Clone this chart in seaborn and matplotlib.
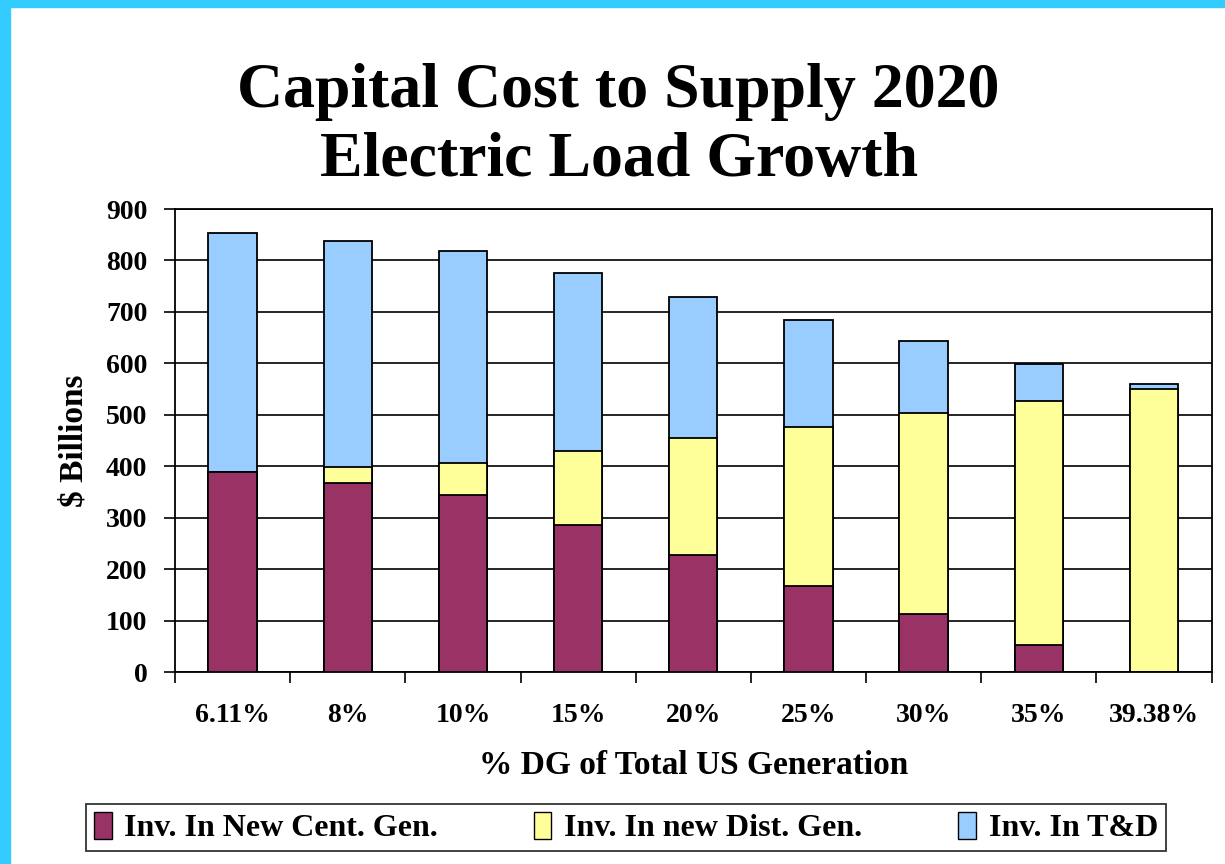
import matplotlib
matplotlib.use("Agg")
import matplotlib.pyplot as plt
import matplotlib.patches as mpatches
import pandas as pd
import seaborn as sns

# --- data ---
categories = ['6.11%', '8%', '10%', '15%', '20%', '25%', '30%', '35%', '39.38%']
cent_gen = [388, 367, 345, 285, 227, 168, 112, 52, 0]
dist_gen = [0, 31, 62, 144, 227, 308, 391, 474, 551]
t_and_d = [465, 440, 411, 346, 274, 208, 140, 72, 8]
series_names = ['Inv. In New Cent. Gen.', 'Inv. In new Dist. Gen.', 'Inv. In T&D']
colors = ['#993366', '#FFFF99', '#99CCFF']

df = pd.DataFrame({'Category': categories, 'Cent': cent_gen, 'Dist': dist_gen, 'TD': t_and_d})
df['Cent_Dist'] = df['Cent'] + df['Dist']
df['Total'] = df['Cent_Dist'] + df['TD']

sns.set_theme(style='white')
plt.rcParams['font.family'] = ['Liberation Serif', 'DejaVu Serif']
plt.rcParams['font.weight'] = 'bold'
plt.rcParams['text.color'] = 'black'
plt.rcParams['axes.labelcolor'] = 'black'
plt.rcParams['xtick.color'] = 'black'
plt.rcParams['ytick.color'] = 'black'

fig = plt.figure(figsize=(12.25, 8.64), dpi=100)
fig.patch.set_facecolor('white')
ax = fig.add_axes([0.1429, 0.2222, 0.8461, 0.5359])

# stacked look: draw cumulative totals back to front
for col, c in zip(['Total', 'Cent_Dist', 'Cent'], colors[::-1]):
    sns.barplot(data=df, x='Category', y=col, color=c, width=0.42,
                edgecolor='black', linewidth=1.3, saturation=1, ax=ax, zorder=3)

ax.set_ylim(0, 900)
ax.set_xlim(-0.5, len(categories) - 0.5)
ax.set_yticks(range(0, 901, 100))
ax.yaxis.grid(True, color='black', linewidth=1.2, zorder=0)
ax.set_axisbelow(True)
for s in ax.spines.values():
    s.set_visible(True)
    s.set_color('black')
    s.set_linewidth(1.3)

# ticks at category boundaries, labels centered
ax.set_xticks([i + 0.5 for i in range(-1, len(categories))], minor=False)
ax.set_xticklabels([''] * (len(categories) + 1))
ax.set_xticks(range(len(categories)), minor=True)
ax.set_xticklabels(categories, minor=True, fontsize=20, fontweight='bold')
ax.tick_params(axis='x', which='major', direction='out', length=8, width=1.2, color='black', bottom=True)
ax.tick_params(axis='x', which='minor', length=0, pad=22)
ax.tick_params(axis='y', direction='out', length=8, width=1.2, color='black', left=True, pad=12)
for t in ax.get_yticklabels():
    t.set_fontsize(20)
    t.set_fontweight('bold')

ax.set_xlabel('% DG of Total US Generation', fontsize=24, fontweight='bold', labelpad=16)
ax.set_ylabel('$ Billions', fontsize=24, fontweight='bold', labelpad=12)

fig.text(0.505, 0.854, 'Capital Cost to Supply 2020\nElectric Load Growth', ha='center', va='center',
         fontsize=46, fontweight='bold', linespacing=1.25)

handles = [mpatches.Patch(facecolor=c, edgecolor='black', label=n) for c, n in zip(colors, series_names)]
leg = fig.legend(handles=handles, loc='center', bbox_to_anchor=(0.511, 0.042), ncol=3,
                 frameon=True, fancybox=False, edgecolor='black',
                 handlelength=0.55, handleheight=0.9, handletextpad=0.4, columnspacing=3.0,
                 borderpad=0.25, prop={'weight': 'bold', 'size': 23})
leg.get_frame().set_linewidth(1.3)

# cyan frame strips at top and left
fig.add_artist(mpatches.Rectangle((0, 0.9919), 1, 0.0081, transform=fig.transFigure, color='#33CCFF'))
fig.add_artist(mpatches.Rectangle((0, 0), 0.0082, 1, transform=fig.transFigure, color='#33CCFF'))

fig.savefig('out.png', dpi=100)
